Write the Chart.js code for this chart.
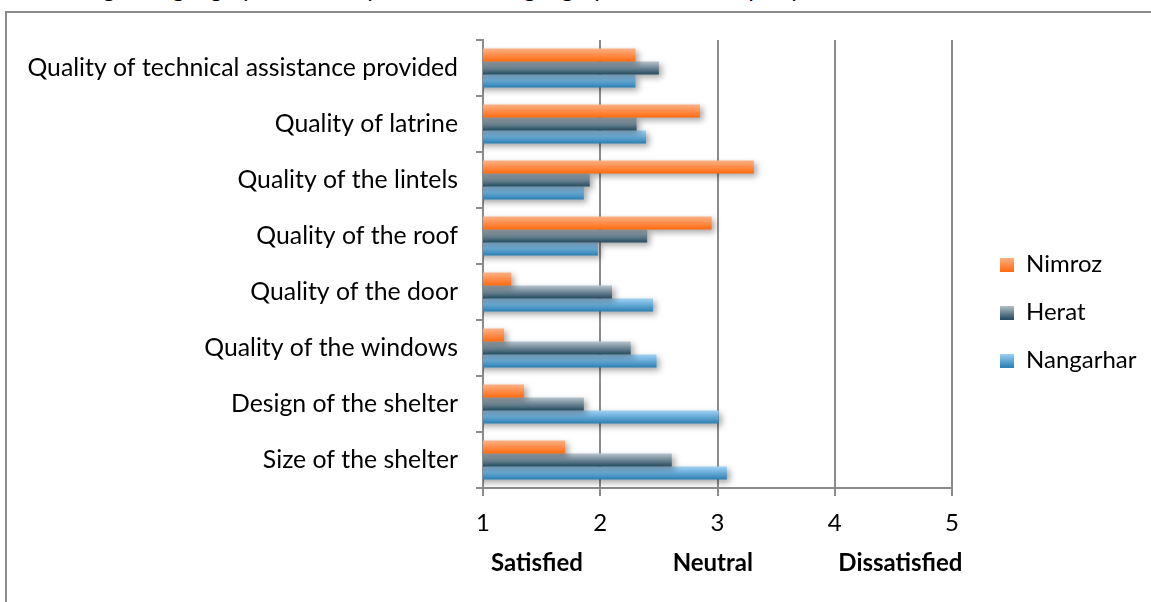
<!DOCTYPE html>
<html>
<head>
<meta charset="utf-8">
<script src="https://cdn.jsdelivr.net/npm/chart.js@4.4.1/dist/chart.umd.min.js"></script>
<style>
  body { margin: 0; background: #fff; overflow: hidden; }
  #topText {
    position: absolute; left: 48px; top: -27px; white-space: nowrap; line-height: 1.2;
    font: 24px Lato, "Liberation Sans", sans-serif; color: #000;
  }
  #frame {
    position: absolute; left: 5px; top: 11px; width: 1146px; height: 591px;
    border-left: 2px solid #8c8c8c; border-top: 2px solid #8c8c8c;
  }
</style>
</head>
<body>
<div id="topText">Rating, being highly satisfied by all and 5 being highly dissatisfied by any</div>
<div id="frame"><canvas id="chart" width="1144" height="589"></canvas></div>
<script>
document.addEventListener("DOMContentLoaded", function () {

    // data
    const categories = [
        "Quality of technical assistance provided",
        "Quality of latrine",
        "Quality of the lintels",
        "Quality of the roof",
        "Quality of the door",
        "Quality of the windows",
        "Design of the shelter",
        "Size of the shelter"
    ];
    const nimroz    = [2.30, 2.85, 3.31, 2.95, 1.24, 1.18, 1.35, 1.70];
    const herat     = [2.50, 2.31, 1.91, 2.40, 2.10, 2.26, 1.86, 2.61];
    const nangarhar = [2.30, 2.39, 1.86, 1.98, 2.45, 2.48, 3.01, 3.08];
    const scaleTicks  = [1, 2, 3, 4, 5];
    const scaleValues = [1.46, 2.96, 4.56];
    const scaleLabels = ["Satisfied", "Neutral", "Dissatisfied"];

    const FONT = "Lato, 'Liberation Sans', sans-serif";
    const GRID = "#8c8c8c";
    const CAT_PCT = 0.7;

    // light (top) -> dark (bottom) per series
    const shades = [
        ["#ffb288", "#ff6a0e"],
        ["#b7c4cc", "#254a5e"],
        ["#a0d3f7", "#2a7fb3"]
    ];

    // vertical gradient for each bar, worked out from the category scale
    function barGradient(context) {
        const chart = context.chart;
        const y = chart.scales.y;
        const pair = shades[context.datasetIndex];
        if (!y || !chart.chartArea) return pair[1];
        const band = y.height / categories.length;
        const thick = band * CAT_PCT / 3;
        const top = y.getPixelForValue(context.dataIndex) - band * CAT_PCT / 2 + context.datasetIndex * thick;
        const g = chart.ctx.createLinearGradient(0, top, 0, top + thick);
        g.addColorStop(0, pair[0]);
        g.addColorStop(1, pair[1]);
        return g;
    }

    // small gradient squares for the legend
    function legendSwatch(pair) {
        const c = document.createElement("canvas");
        c.width = 14; c.height = 14;
        const x = c.getContext("2d");
        const g = x.createLinearGradient(0, 0, 0, 14);
        g.addColorStop(0, pair[0]);
        g.addColorStop(1, pair[1]);
        x.fillStyle = g;
        x.fillRect(0, 0, 14, 14);
        return c;
    }

    const barShadow = {
        id: "barShadow",
        beforeDatasetsDraw(chart) {
            const ctx = chart.ctx;
            ctx.save();
            ctx.shadowColor = "rgba(0,0,0,0.35)";
            ctx.shadowBlur = 6;
            ctx.shadowOffsetX = 3;
            ctx.shadowOffsetY = 3;
        },
        afterDatasetsDraw(chart) {
            chart.ctx.restore();
        }
    };

    // fixed legend width, pushed a bit away from the plot
    const legendFix = {
        id: "legendFix",
        beforeUpdate(chart) {
            const lg = chart.legend;
            if (lg && !lg._fixed) {
                const fit = lg.fit;
                lg.fit = function () { fit.call(this); this.width = 199; };
                lg._fixed = true;
            }
        },
        afterLayout(chart) {
            const lg = chart.legend;
            lg.left += 24; lg.right += 24;
        }
    };

    const names = ["Nimroz", "Herat", "Nangarhar"];
    const series = [nimroz, herat, nangarhar];

    new Chart(document.getElementById("chart"), {
        type: "bar",
        data: {
            labels: categories,
            datasets: series.map((vals, i) => ({
                label: names[i],
                data: vals,
                backgroundColor: barGradient,
                borderWidth: 0,
                categoryPercentage: CAT_PCT,
                barPercentage: 1.0,
                pointStyle: legendSwatch(shades[i])
            }))
        },
        options: {
            indexAxis: "y",
            responsive: false,
            animation: false,
            layout: { padding: { top: 27, bottom: 17, left: 0, right: 0 } },
            plugins: {
                tooltip: { enabled: false },
                legend: {
                    position: "right",
                    labels: {
                        usePointStyle: true,
                        boxWidth: 14,
                        boxHeight: 14,
                        padding: 24,
                        color: "#000",
                        font: { family: FONT, size: 24 }
                    }
                }
            },
            scales: {
                y: {
                    type: "category",
                    position: "left",
                    grid: {
                        offset: true,
                        drawOnChartArea: false,
                        drawTicks: true,
                        tickLength: 7,
                        color: GRID,
                        lineWidth: 2
                    },
                    border: { color: GRID, width: 2 },
                    ticks: { color: "#000", padding: 18, font: { family: FONT, size: 24.8 } },
                    afterFit(scale) {
                        scale.width = 476;
                        scale.paddingTop = 0;
                        scale.paddingBottom = 0;
                    }
                },
                x: {
                    type: "linear",
                    position: "bottom",
                    min: 1,
                    max: 5,
                    afterBuildTicks(scale) { scale.ticks = scaleTicks.map(v => ({ value: v })); },
                    grid: { color: GRID, lineWidth: 2, tickLength: 8 },
                    border: { color: GRID, width: 2 },
                    ticks: { color: "#000", padding: 13, maxRotation: 0, font: { family: FONT, size: 24 } },
                    afterFit(scale) { scale.height = 47; }
                },
                x2: {
                    type: "linear",
                    position: "bottom",
                    min: 1,
                    max: 5,
                    afterBuildTicks(scale) { scale.ticks = scaleValues.map(v => ({ value: v })); },
                    grid: { display: false },
                    border: { display: false },
                    ticks: {
                        color: "#000",
                        padding: 6,
                        autoSkip: false,
                        maxRotation: 0,
                        font: { family: FONT, size: 24, weight: "bold" },
                        callback: (v, i) => scaleLabels[i]
                    },
                    afterFit(scale) { scale.height = 50; }
                }
            }
        },
        plugins: [barShadow, legendFix]
    });

});
</script>
</body>
</html>
